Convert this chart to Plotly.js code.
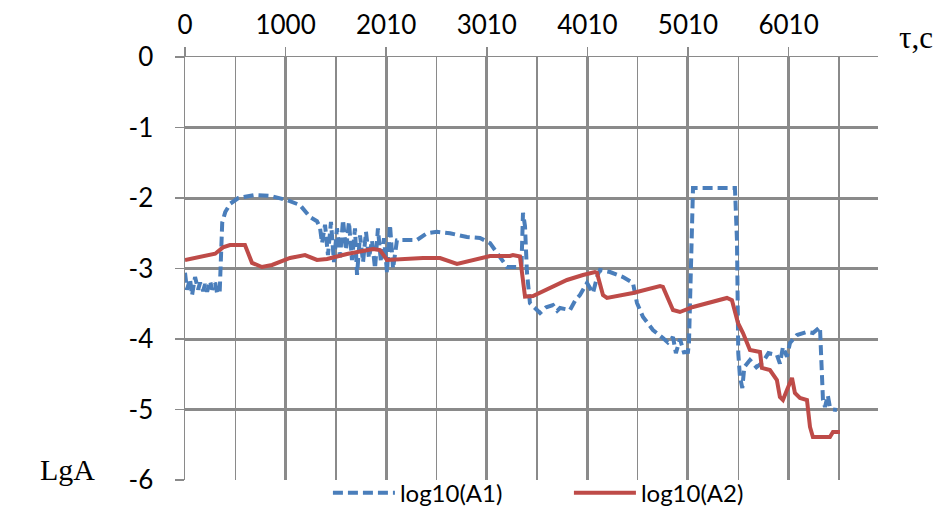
<!DOCTYPE html>
<html>
<head>
<meta charset="utf-8">
<script src="https://cdn.plot.ly/plotly-3.0.1.min.js"></script>
<style>html,body{margin:0;padding:0;background:#fff;}#chart{width:939px;height:506px;}</style>
</head>
<body>
<div id="chart"></div>
<script>
// time axis (s), tick labels
const xTickVals = [0, 1000, 2000, 3000, 4000, 5000, 6000];
const xTickText = ["0", "1000", "2010", "3010", "4010", "5010", "6010"];
const yTickVals = [0, -1, -2, -3, -4, -5, -6];
const yTickText = ["0", "-1", "-2", "-3", "-4", "-5", "-6"];

// log10(A1) – dashed blue
const a1X = [0, 20, 50, 70, 100, 130, 150, 180, 200, 220, 250, 270, 300, 320, 345, 355, 370, 400, 450, 530, 700, 850, 1014, 1143, 1243,
  1312, 1342, 1362, 1392, 1421, 1451, 1481, 1511, 1541, 1571, 1600, 1630, 1660, 1690, 1710, 1740, 1770, 1799, 1829,
  1859, 1889, 1918, 1948, 1978, 2008, 2038, 2068, 2107,
  2137, 2306, 2405, 2505, 2634, 2803, 2932, 3032, 3131, 3201, 3310, 3345, 3360, 3380, 3399, 3429,
  3529, 3590, 3658, 3700, 3728, 3827, 3880, 3926, 3996, 4056, 4100, 4125, 4225, 4354, 4453, 4493,
  4553, 4652, 4751, 4800, 4851, 4880, 4920, 4960, 5000, 5010, 5050, 5467, 5487, 5500, 5517, 5540,
  5560, 5616, 5680, 5745, 5800, 5884, 5914, 5944, 5984, 6014, 6083, 6183, 6242, 6312, 6342, 6362,
  6390, 6411, 6441, 6481];
const a1Y = [-3.06, -3.3, -3.15, -3.38, -3.12, -3.3, -3.2, -3.32, -3.22, -3.33, -3.18, -3.3, -3.2, -3.36, -3.33, -2.9, -2.35, -2.2, -2.08, -2.0, -1.957, -1.97, -2.03, -2.1, -2.27,
  -2.33, -2.42, -2.64, -2.38, -2.81, -2.34, -2.91, -2.43, -2.84, -2.31, -2.74, -2.34, -2.88, -2.43, -3.09, -2.53, -2.91, -2.48, -2.85,
  -2.6, -3.0, -2.43, -2.91, -2.57, -3.05, -2.38, -3.0, -2.6,
  -2.596, -2.596, -2.5, -2.48, -2.5, -2.553, -2.567, -2.64, -2.837, -2.979, -2.98, -2.95, -2.21, -2.4, -3.05, -3.49,
  -3.63, -3.55, -3.518, -3.6, -3.56, -3.589, -3.45, -3.376, -3.206, -3.348, -3.1, -3.021, -3.05, -3.121, -3.206, -3.489,
  -3.688, -3.872, -3.986, -4.05, -3.972, -4.2, -4.0, -4.19, -4.184, -4.05, -1.858, -1.858, -2.6, -4.2, -4.539, -4.695,
  -4.4, -4.298, -4.4, -4.326, -4.2, -4.227, -4.35, -4.113, -4.25, -4.057, -3.943, -3.9, -3.915, -3.83, -4.865, -4.965,
  -4.8, -4.965, -5.0, -5.007];

// log10(A2) – solid red
const a2X = [0, 100, 200, 300, 378, 447, 596, 666, 765, 865, 1044, 1193, 1312, 1412, 1610, 1869, 1938, 2008,
  2366, 2535, 2704, 2863, 3032, 3231, 3260, 3330, 3380, 3459, 3628, 3797, 3956, 4075, 4095, 4155, 4195,
  4453, 4722, 4751, 4851, 4920, 5050, 5387, 5437, 5497, 5547, 5616, 5716, 5735, 5815, 5884, 5914, 5944,
  5984, 6034, 6063, 6113, 6183, 6213, 6242, 6411, 6441, 6511];
const a2Y = [-2.879, -2.85, -2.82, -2.79, -2.7, -2.667, -2.667, -2.92, -2.979, -2.95, -2.851, -2.809, -2.879, -2.865, -2.794, -2.723, -2.738, -2.879,
  -2.851, -2.851, -2.936, -2.879, -2.823, -2.823, -2.81, -2.83, -3.4, -3.39, -3.277, -3.163, -3.092, -3.05, -3.06, -3.376, -3.418,
  -3.348, -3.248, -3.26, -3.589, -3.617, -3.546, -3.418, -3.45, -3.773, -3.915, -4.156, -4.184, -4.411, -4.44, -4.582, -4.823, -4.865,
  -4.723, -4.553, -4.766, -4.837, -4.865, -5.248, -5.39, -5.39, -5.319, -5.319];

const gridGray = '#8a8a8a';
const tickFont = {family: 'Lato, "Open Sans", sans-serif', size: 26, color: '#000'};

const traces = [
  {x: a1X, y: a1Y, type: 'scatter', mode: 'lines', name: 'log10(A1)',
   line: {color: '#4A7EBB', width: 4, dash: '10px,5px'}},
  {x: a2X, y: a2Y, type: 'scatter', mode: 'lines', name: 'log10(A2)',
   line: {color: '#BE4B48', width: 4}}
];

const layout = {
  width: 939, height: 506,
  margin: {l: 185, r: 61, t: 57, b: 26, autoexpand: false},
  paper_bgcolor: '#fff', plot_bgcolor: '#fff',
  showlegend: true,
  legend: {orientation: 'h', x: 0.554, xanchor: 'center', y: -0.031, yanchor: 'middle',
           font: {family: 'Lato, "Open Sans", sans-serif', size: 24, color: '#000'},
           bgcolor: 'rgba(0,0,0,0)', itemwidth: 62, entrywidth: 164, entrywidthmode: 'pixels'},
  xaxis: {
    side: 'top', range: [0, 6889], tickmode: 'array', tickvals: xTickVals, ticktext: xTickText,
    showgrid: true, gridcolor: gridGray, gridwidth: 3,
    zeroline: true, zerolinecolor: gridGray, zerolinewidth: 1.5,
    showline: true, linecolor: gridGray, linewidth: 1.5,
    ticks: 'outside', ticklen: 9, tickwidth: 1.5, tickcolor: gridGray,
    tickfont: tickFont, ticklabelstandoff: 2,
    minor: {tick0: 500, dtick: 1000, showgrid: true, gridcolor: gridGray, gridwidth: 1.5, ticks: ''},
    fixedrange: true
  },
  yaxis: {
    range: [-6, 0], tickmode: 'array', tickvals: yTickVals, ticktext: yTickText,
    showgrid: true, gridcolor: gridGray, gridwidth: 3,
    zeroline: true, zerolinecolor: gridGray, zerolinewidth: 1.5,
    showline: true, linecolor: gridGray, linewidth: 1.5,
    ticks: 'outside', ticklen: 9, tickwidth: 1.5, tickcolor: gridGray,
    tickfont: tickFont, ticklabelstandoff: 16,
    fixedrange: true
  },
  annotations: [
    {text: 'τ,c', xref: 'paper', yref: 'paper', x: 1.055, y: 1.045, showarrow: false,
     xanchor: 'center', yanchor: 'middle',
     font: {family: '"Liberation Serif", "DejaVu Serif", serif', size: 31, color: '#000'}},
    {text: 'LgA', xref: 'paper', yref: 'paper', x: -0.169, y: 0.024, showarrow: false,
     xanchor: 'center', yanchor: 'middle',
     font: {family: '"Liberation Serif", "DejaVu Serif", serif', size: 30, color: '#000'}}
  ]
};

Plotly.newPlot('chart', traces, layout, {displayModeBar: false, staticPlot: true});
</script>
</body>
</html>
